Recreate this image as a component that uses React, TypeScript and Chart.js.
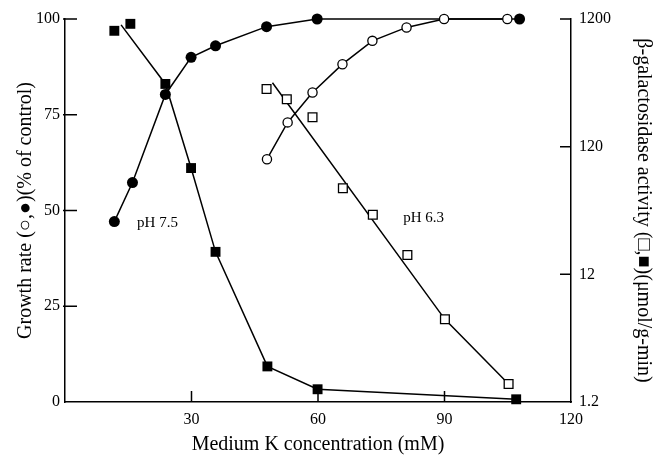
import React, { useEffect, useRef } from "react";
import { Chart, registerables } from "chart.js";

Chart.register(...registerables);

// ---- Data ----
const xTicks = [30, 60, 90, 120];
const xTickLabels = ["30", "60", "90", "120"];
const leftTicks = [0, 25, 50, 75, 100];
const leftTickLabels = ["0", "25", "50", "75", "100"];
const rightTicks = [1.2, 12, 120, 1200];
const rightTickLabels = ["1.2", "12", "120", "1200"];

// Growth rate, pH 7.5 (filled circles)
const filledCircleX = [11.7, 16.0, 23.8, 29.9, 35.7, 47.8, 59.8, 107.8];
const filledCircleY = [47.1, 57.3, 80.3, 90.0, 93.0, 98.0, 100, 100];
// Growth rate, pH 6.3 (open circles)
const openCircleX = [47.9, 52.8, 58.7, 65.8, 72.9, 81.0, 89.9, 104.9];
const openCircleY = [63.4, 73.0, 80.8, 88.2, 94.3, 97.8, 100, 100];
// beta-galactosidase, pH 7.5 (filled squares)
const filledSquareX = [11.7, 15.5, 23.8, 29.9, 35.7, 48.0, 59.9, 107.0];
const filledSquareY = [970, 1100, 372, 81.6, 18, 2.28, 1.51, 1.26];
const filledSquareLineX = [13.3, 23.8, 29.9, 35.7, 48.0, 59.9, 107.0];
const filledSquareLineY = [1080, 372, 81.6, 18, 2.28, 1.51, 1.26];
// beta-galactosidase, pH 6.3 (open squares)
const openSquareX = [47.8, 52.6, 58.7, 65.9, 73.0, 81.2, 90.1, 105.2];
const openSquareY = [340, 282, 204, 56.6, 35.1, 17, 5.33, 1.66];
const openSquareLineX = [49.2, 90.1, 105.2];
const openSquareLineY = [380, 5.33, 1.66];

// Annotations (x in mM, y on the left axis)
const annotationTexts = ["pH 7.5", "pH 6.3"];
const annotationX = [17.1, 80.2];
const annotationY = [46.7, 48.0];

const zip = (xs: number[], ys: number[]) => xs.map((x, i) => ({ x, y: ys[i] }));

const FONT = '"Liberation Serif", "Times New Roman", "DejaVu Serif", serif';

const innerTicks = {
  id: "innerTicks",
  afterDraw(chart: any) {
    const ctx = chart.ctx;
    const { left, right, top, bottom } = chart.chartArea;
    const sx = chart.scales.x;
    const sy = chart.scales.y;
    const sy2 = chart.scales.y2;
    ctx.save();
    ctx.strokeStyle = "#000";
    ctx.lineWidth = 1.5;
    ctx.beginPath();
    xTicks.forEach((v) => {
      const px = sx.getPixelForValue(v);
      if (px >= right - 1) return;
      ctx.moveTo(px, bottom);
      ctx.lineTo(px, bottom - 11);
    });
    leftTicks.forEach((v) => {
      const py = sy.getPixelForValue(v);
      if (py >= bottom - 1) return;
      ctx.moveTo(left - 2, py);
      ctx.lineTo(left + 12, py);
    });
    rightTicks.forEach((v) => {
      const py = sy2.getPixelForValue(v);
      if (py >= bottom - 1) return;
      ctx.moveTo(right, py);
      ctx.lineTo(right - 11, py);
    });
    ctx.stroke();
    ctx.fillStyle = "#000";
    ctx.font = "15px " + FONT;
    ctx.textAlign = "left";
    ctx.textBaseline = "middle";
    annotationTexts.forEach((t, i) => {
      ctx.fillText(t, sx.getPixelForValue(annotationX[i]), sy.getPixelForValue(annotationY[i]));
    });
    ctx.restore();
  },
};

export default function App() {
  const ref = useRef<HTMLCanvasElement | null>(null);
  useEffect(() => {
    if (!ref.current) return;
    Chart.defaults.font.family = FONT;
    Chart.defaults.color = "#000";
    const chart = new Chart(ref.current, {
      type: "scatter",
      data: {
        datasets: [
          {
            label: "pH 6.3 growth",
            data: zip(openCircleX, openCircleY),
            yAxisID: "y",
            showLine: true,
            borderColor: "#000",
            borderWidth: 1.5,
            pointStyle: "circle",
            pointRadius: 4.6,
            pointBorderWidth: 1.3,
            pointBackgroundColor: "#fff",
            pointBorderColor: "#000",
            clip: false,
            order: 1,
          } as any,
          {
            label: "pH 7.5 growth",
            data: zip(filledCircleX, filledCircleY),
            yAxisID: "y",
            showLine: true,
            borderColor: "#000",
            borderWidth: 1.5,
            pointStyle: "circle",
            pointRadius: 5.5,
            pointBorderWidth: 0,
            pointBackgroundColor: "#000",
            pointBorderColor: "#000",
            clip: false,
            order: 2,
          } as any,
          {
            label: "pH 6.3 activity",
            data: zip(openSquareX, openSquareY),
            yAxisID: "y2",
            showLine: false,
            pointStyle: "rect",
            pointRadius: 6.2,
            pointBorderWidth: 1.3,
            pointBackgroundColor: "#fff",
            pointBorderColor: "#000",
            clip: false,
            order: 3,
          } as any,
          {
            label: "pH 6.3 activity line",
            data: zip(openSquareLineX, openSquareLineY),
            yAxisID: "y2",
            showLine: true,
            borderColor: "#000",
            borderWidth: 1.5,
            pointRadius: 0,
            clip: false,
            order: 4,
          } as any,
          {
            label: "pH 7.5 activity",
            data: zip(filledSquareX, filledSquareY),
            yAxisID: "y2",
            showLine: false,
            pointStyle: "rect",
            pointRadius: 7,
            pointBorderWidth: 0,
            pointBackgroundColor: "#000",
            pointBorderColor: "#000",
            clip: false,
            order: 5,
          } as any,
          {
            label: "pH 7.5 activity line",
            data: zip(filledSquareLineX, filledSquareLineY),
            yAxisID: "y2",
            showLine: true,
            borderColor: "#000",
            borderWidth: 1.5,
            pointRadius: 0,
            clip: false,
            order: 6,
          } as any,
        ],
      },
      options: {
        responsive: false,
        maintainAspectRatio: false,
        animation: false,
        devicePixelRatio: 1,
        layout: { padding: { top: 19, left: 0, right: 0, bottom: 0 } },
        plugins: { legend: { display: false }, tooltip: { enabled: false } },
        scales: {
          x: {
            type: "linear",
            position: "bottom",
            min: 0,
            max: 120,
            grid: { display: false, drawTicks: false },
            border: { display: true, color: "#000", width: 1.5 },
            afterBuildTicks: (s: any) => {
              s.ticks = xTicks.map((v) => ({ value: v }));
            },
            afterFit: (s: any) => {
              s.height = 55;
            },
            ticks: {
              autoSkip: false,
              maxRotation: 0,
              padding: 8,
              color: "#000",
              font: { size: 16, family: FONT },
              callback: (_v: any, i: number) => xTickLabels[i],
            },
            title: {
              display: true,
              text: "Medium K concentration (mM)",
              color: "#000",
              font: { size: 20, family: FONT },
              padding: { top: 0, bottom: 0 },
            },
          },
          y: {
            type: "linear",
            position: "left",
            min: 0,
            max: 100,
            grid: { display: false, drawTicks: false },
            border: { display: true, color: "#000", width: 1.5 },
            afterBuildTicks: (s: any) => {
              s.ticks = leftTicks.map((v) => ({ value: v }));
            },
            afterFit: (s: any) => {
              s.width = 65;
            },
            ticks: {
              autoSkip: false,
              padding: 5,
              color: "#000",
              font: { size: 16, family: FONT },
              callback: (_v: any, i: number) => leftTickLabels[i],
            },
            title: {
              display: true,
              text: "Growth rate (○,●)(% of control)",
              color: "#000",
              font: { size: 20, family: FONT },
              padding: { top: 14, bottom: 0 },
            },
          },
          y2: {
            type: "logarithmic",
            position: "right",
            min: 1.2,
            max: 1200,
            grid: { display: false, drawTicks: false },
            border: { display: true, color: "#000", width: 1.5 },
            afterBuildTicks: (s: any) => {
              s.ticks = rightTicks.map((v) => ({ value: v }));
            },
            afterFit: (s: any) => {
              s.width = 89;
            },
            ticks: {
              autoSkip: false,
              padding: 8,
              color: "#000",
              font: { size: 16, family: FONT },
              callback: (_v: any, i: number) => rightTickLabels[i],
            },
            title: {
              display: true,
              text: "β-galactosidase activity (□,■)(μmol/g-min)",
              color: "#000",
              font: { size: 20, family: FONT },
              padding: { top: 5, bottom: 0 },
            },
          },
        },
      } as any,
      plugins: [innerTicks],
    });
    return () => chart.destroy();
  }, []);
  return (
    <div style={{ position: "absolute", left: 0, top: 0, width: 660, height: 457, background: "#fff" }}>
      <canvas ref={ref} width={660} height={457} style={{ display: "block" }} />
    </div>
  );
}
